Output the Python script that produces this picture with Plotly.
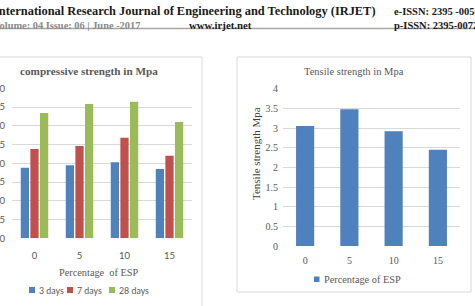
import plotly.graph_objects as go

# ---------------- data ----------------
categories = ["0", "5", "10", "15"]
series_names = ["3 days", "7 days", "28 days"]
comp_3days = [18.8, 19.5, 20.3, 18.5]
comp_7days = [23.8, 24.6, 26.8, 22.0]
comp_28days = [33.4, 35.8, 36.4, 31.0]
tensile = [3.05, 3.48, 2.92, 2.45]
tensile_name = "Percentage of ESP"
series_colors = ["#4f81bd", "#c0504d", "#9bbb59"]

W, H = 475, 306
SERIF = "Liberation Serif"
SANS = "Lato"
GRAY = "#595959"
GRID = "#d9d9d9"


def px(x):
    return x / W


def py(y):
    return 1 - y / H


def note(text, x, y, xanchor="left", size=10, color=GRAY, family=SERIF, **kw):
    return dict(text=text, x=px(x), y=py(y), xref="paper", yref="paper", xanchor=xanchor,
                yanchor="middle", showarrow=False, font=dict(family=family, size=size, color=color), **kw)


fig = go.Figure()

for name, vals, col in zip(series_names, [comp_3days, comp_7days, comp_28days], series_colors):
    fig.add_trace(go.Bar(x=categories, y=vals, name=name, marker_color=col,
                         xaxis="x", yaxis="y", showlegend=False))

fig.add_trace(go.Bar(x=categories, y=tensile, name=tensile_name, marker_color="#4f81bd",
                     width=0.41, xaxis="x2", yaxis="y2", showlegend=False))

ann = []
shapes = []

# header
ann.append(note("<b>International Research Journal of Engineering and Technology (IRJET)</b>", 378, 11,
                xanchor="right", size=12.4, color="#1a1a1a"))
ann.append(note("<b>e-ISSN: 2395 -0056</b>", 392, 12, size=10.5, color="#1a1a1a"))
ann.append(note("<b>Volume: 04 Issue: 06 | June -2017</b>", 142, 25, xanchor="right", size=10.4,
                color="#8a8a8a"))
ann.append(note("<b>www.irjet.net</b>", 220, 25, xanchor="center", size=10.8, color="#1a1a1a"))
ann.append(note("<b>p-ISSN: 2395-0072</b>", 392, 25, size=10.5, color="#1a1a1a"))
shapes.append(dict(type="line", xref="paper", yref="paper", x0=0, x1=1, y0=py(28.5), y1=py(28.5),
                   line=dict(color="#a6a6a6", width=1.5)))

# chart boxes
shapes.append(dict(type="rect", xref="paper", yref="paper", x0=px(-5), x1=px(202), y0=py(320), y1=py(57),
                   line=dict(color=GRID, width=1), fillcolor="rgba(0,0,0,0)", layer="below"))
shapes.append(dict(type="rect", xref="paper", yref="paper", x0=px(237), x1=px(471), y0=py(292), y1=py(57),
                   line=dict(color=GRID, width=1), fillcolor="rgba(0,0,0,0)", layer="below"))

# left chart titles
ann.append(note("<b>compressive strength in Mpa</b>", 18, 71, size=11.2))
ann.append(note("Percentage  of ESP", 98, 272, xanchor="center", size=10.3))
# left legend
leg_x = [29, 67, 109]
for name, col, lx in zip(series_names, series_colors, leg_x):
    shapes.append(dict(type="rect", xref="paper", yref="paper", x0=px(lx), x1=px(lx + 6),
                       y0=py(293), y1=py(287), fillcolor=col, line=dict(width=0)))
    ann.append(note(name, lx + 7.5, 290, family=SANS, size=8.8))

# right chart titles
ann.append(note("Tensile strength in Mpa", 354, 71, xanchor="center", size=10.5))
ann.append(note("Tensile strength Mpa", 256, 154, xanchor="center", size=11, color="#404040",
                textangle=-90))
shapes.append(dict(type="rect", xref="paper", yref="paper", x0=px(314), x1=px(319.5),
                   y0=py(282), y1=py(276.5), fillcolor="#4f81bd", line=dict(width=0)))
ann.append(note(tensile_name, 322, 279, size=10.3))

axis_common = dict(showline=False, zeroline=False, ticks="", automargin=False, fixedrange=True)

fig.update_layout(
    template="none",
    width=W, height=H,
    margin=dict(l=0, r=0, t=0, b=0),
    paper_bgcolor="white", plot_bgcolor="rgba(0,0,0,0)",
    barmode="group", bargap=0.36, bargroupgap=0.14,
    showlegend=False,
    xaxis=dict(domain=[px(12), px(192)], anchor="y", type="category", showgrid=False,
               ticklabelstandoff=10,
               tickfont=dict(family=SANS, size=9.5, color=GRAY), **axis_common),
    yaxis=dict(domain=[py(238.3), py(88.3)], anchor="x", range=[0, 40], dtick=5,
               showgrid=True, gridcolor=GRID, gridwidth=1, ticklabelstandoff=6,
               tickfont=dict(family=SANS, size=9.5, color=GRAY), **axis_common),
    xaxis2=dict(domain=[px(283), px(460)], anchor="y2", type="category", showgrid=False,
                ticklabelstandoff=7,
                tickfont=dict(family=SERIF, size=10, color=GRAY), **axis_common),
    yaxis2=dict(domain=[py(246), py(88.7)], anchor="x2", range=[0, 4], dtick=0.5,
                showgrid=True, gridcolor=GRID, gridwidth=1, ticklabelstandoff=4,
                tickfont=dict(family=SERIF, size=10, color=GRAY), **axis_common),
    annotations=ann,
    shapes=shapes,
)

fig.write_html("out.html")
